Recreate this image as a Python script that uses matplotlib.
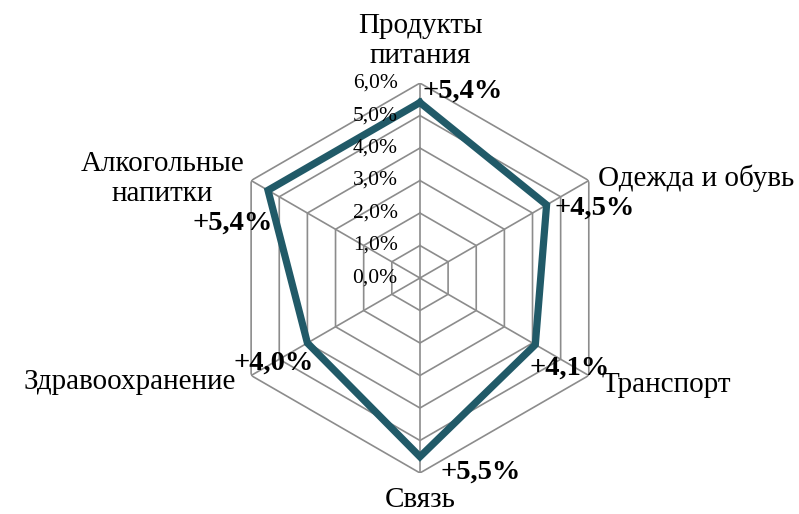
import numpy as np
import matplotlib.pyplot as plt

# categories clockwise from the top
categories = ["Продукты\nпитания", "Одежда и обувь", "Транспорт",
              "Связь", "Здравоохранение", "Алкогольные\nнапитки"]
values = [5.4, 4.5, 4.1, 5.5, 4.0, 5.4]
value_labels = ["+5,4%", "+4,5%", "+4,1%", "+5,5%", "+4,0%", "+5,4%"]
rings = [0, 1, 2, 3, 4, 5, 6]
ring_labels = ["0,0%", "1,0%", "2,0%", "3,0%", "4,0%", "5,0%", "6,0%"]

plt.rcParams['font.family'] = ['Liberation Serif', 'DejaVu Serif']

fig = plt.figure(figsize=(7.99, 5.14), dpi=100)
ax = fig.add_axes([0.2816, 0.0797, 0.488, 0.7588], projection='polar')
ax.set_theta_zero_location('N')
ax.set_theta_direction(-1)
ax.set_ylim(0, 6)
ax.grid(False)
ax.set_xticks([])
ax.set_yticks([])
ax.spines['polar'].set_visible(False)
ax.patch.set_visible(False)

n = len(categories)
theta = np.arange(n) * 2 * np.pi / n
closed = np.append(theta, theta[0])

grid_col = '#8c8c8c'
for r in rings[1:]:
    ax.plot(closed, [r] * (n + 1), color=grid_col, lw=1.2, zorder=1)
for t in theta:
    ax.plot([t, t], [0, rings[-1]], color=grid_col, lw=1.2, zorder=1)

ax.plot(closed, values + values[:1], color='#215a68', lw=5.2,
        solid_joinstyle='miter', zorder=3)

# radial tick labels along the top spoke
for r, lab in zip(rings, ring_labels):
    ax.annotate(lab, xy=(0, r), xytext=(-16, 0), textcoords='offset points',
                ha='right', va='center', fontsize=15.5, zorder=4)

# category labels (offsets in points)
cat_pos = [((0, 10), 'center', 'bottom'),
           ((6.5, 2), 'left', 'center'),
           ((9, -6.5), 'left', 'center'),
           ((0, -10), 'center', 'top'),
           ((-11, -5), 'right', 'center'),
           ((-5, 1), 'right', 'center')]
for t, lab, (off, ha, va) in zip(theta, categories, cat_pos):
    ax.annotate(lab, xy=(t, rings[-1]), xytext=off, textcoords='offset points',
                ha=ha, va=va, fontsize=21, multialignment='center',
                linespacing=1.2, annotation_clip=False)

# value labels near the data points
val_pos = [((1.5, 8.5), 'left'),
           ((6, -2), 'left'),
           ((-4, -17), 'left'),
           ((15, -11), 'left'),
           ((4.5, -14.5), 'right'),
           ((3.5, -24), 'right')]
for t, v, lab, (off, ha) in zip(theta, values, value_labels, val_pos):
    ax.annotate(lab, xy=(t, v), xytext=off, textcoords='offset points',
                ha=ha, va='center', fontsize=20.5, fontweight='bold',
                annotation_clip=False, zorder=5)

fig.savefig('out.png', dpi=100)
